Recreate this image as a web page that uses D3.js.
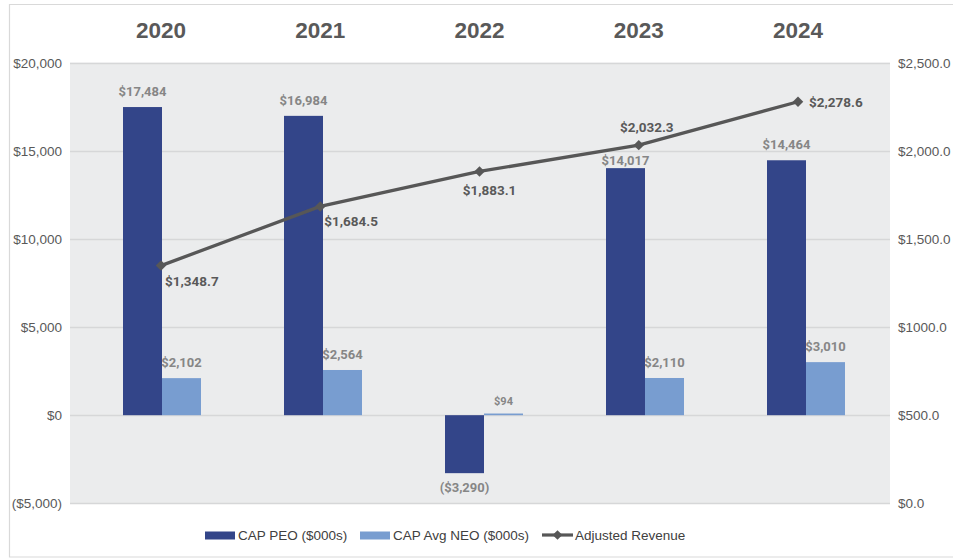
<!DOCTYPE html>
<html>
<head>
<meta charset="utf-8">
<script src="https://cdn.jsdelivr.net/npm/d3@7"></script>
<style>
  body { margin: 0; background: #fff; }
  svg text { font-family: "Liberation Sans", Arial, sans-serif; }
  .lbl { font-family: Roboto, "Liberation Sans", Arial, sans-serif !important; font-weight: bold; }
</style>
</head>
<body>
<div id="chart"></div>
<script>
const years = ["2020", "2021", "2022", "2023", "2024"];
const capPeo = [17484, 16984, -3290, 14017, 14464];
const capNeo = [2102, 2564, 94, 2110, 3010];
const revenue = [1348.7, 1684.5, 1883.1, 2032.3, 2278.6];
const leftTicks = [-5000, 0, 5000, 10000, 15000, 20000];
const rightTicks = [0, 500, 1000, 1500, 2000, 2500];
const rightTickLabels = ["$0.0", "$500.0", "$1000.0", "$1,500.0", "$2,000.0", "$2,500.0"];
// where each revenue label sits relative to its point
const revLabelPos = ["br", "br", "below", "above", "right"];

const W = 953, H = 558;
const plotL = 70, plotR = 890, plotT = 62.7, plotB = 503.3;

const svg = d3.select("#chart").append("svg").attr("width", W).attr("height", H);

// outer frame (top, left, bottom)
svg.append("path")
  .attr("d", `M${W + 2},4.5 H9.5 V557 H${W + 2}`)
  .attr("fill", "none").attr("stroke", "#d9d9d9").attr("stroke-width", 1.2);

svg.append("rect").attr("x", plotL).attr("y", plotT)
  .attr("width", plotR - plotL).attr("height", plotB - plotT).attr("fill", "#ebeced");

// bars sit in bands, the headers and the line use a slightly narrower point scale
const x = d3.scaleBand().domain(years).range([81.5, 886.5]);
const xYear = d3.scalePoint().domain(years).range([161, 798]);
const sub = d3.scaleBand().domain(["peo", "neo"]).range([0, 78]);
const yL = d3.scaleLinear().domain([-5000, 20000]).range([plotB, plotT]);
const yR = d3.scaleLinear().domain([0, 2500]).range([plotB, plotT]);

const xCenter = d => x(d) + x.bandwidth() / 2;
const grpLeft = d => xCenter(d) - 39;

// gridlines
svg.append("g").selectAll("line").data(leftTicks).join("line")
  .attr("x1", plotL).attr("x2", plotR)
  .attr("y1", d => Math.round(yL(d)) + 0.5).attr("y2", d => Math.round(yL(d)) + 0.5)
  .attr("stroke", "#d6d7d8").attr("stroke-width", 1.3);

// left axis
const axL = svg.append("g").attr("transform", `translate(${plotL},0)`)
  .call(d3.axisLeft(yL).tickValues(leftTicks).tickSize(0).tickPadding(8)
    .tickFormat(d => d < 0 ? `($${d3.format(",")(-d)})` : `$${d3.format(",")(d)}`));
axL.select(".domain").remove();
axL.selectAll("text").attr("font-size", 13.5).attr("fill", "#595959")
  .style("font-family", '"Liberation Sans", Arial, sans-serif');

// right axis
const axR = svg.append("g").attr("transform", `translate(${plotR},0)`)
  .call(d3.axisRight(yR).tickValues(rightTicks).tickSize(0).tickPadding(8)
    .tickFormat((d, i) => rightTickLabels[i]));
axR.select(".domain").remove();
axR.selectAll("text").attr("font-size", 13.5).attr("fill", "#595959")
  .style("font-family", '"Liberation Sans", Arial, sans-serif');

// year headers
svg.append("g").selectAll("text").data(years).join("text")
  .attr("x", d => xYear(d)).attr("y", 38)
  .attr("text-anchor", "middle").attr("font-size", 22.5).attr("font-weight", "bold")
  .attr("fill", "#595959").text(d => d);

const peoColor = "#334589", neoColor = "#789dd0", lineColor = "#575757";

// bars
const bars = svg.append("g");
bars.selectAll("rect.peo").data(years).join("rect").attr("class", "peo")
  .attr("x", d => grpLeft(d) + sub("peo")).attr("width", sub.bandwidth())
  .attr("y", (d, i) => yL(Math.max(0, capPeo[i])))
  .attr("height", (d, i) => Math.abs(yL(capPeo[i]) - yL(0)))
  .attr("fill", peoColor);
bars.selectAll("rect.neo").data(years).join("rect").attr("class", "neo")
  .attr("x", d => grpLeft(d) + sub("neo")).attr("width", sub.bandwidth())
  .attr("y", (d, i) => yL(Math.max(0, capNeo[i])))
  .attr("height", (d, i) => Math.max(1.2, Math.abs(yL(capNeo[i]) - yL(0))))
  .attr("fill", neoColor);

const money = v => v < 0 ? `($${d3.format(",")(-v)})` : `$${d3.format(",")(v)}`;

// revenue line points
const pts = years.map((d, i) => [xYear(d), yR(revenue[i])]);

// bar labels; a PEO label that would hit the line just above its bar is tucked down
svg.append("g").selectAll("text").data(years).join("text").attr("class", "lbl")
  .attr("x", d => grpLeft(d) + sub("peo") + sub.bandwidth() / 2)
  .attr("y", (d, i) => {
    if (capPeo[i] < 0) return yL(capPeo[i]) + 19;
    const top = yL(capPeo[i]);
    const gap = top - pts[i][1];
    return (gap > 0 && gap < 35) ? top - 3 : top - 11;
  })
  .attr("text-anchor", "middle").attr("font-size", 13).attr("fill", "#868686")
  .text((d, i) => money(capPeo[i]));
svg.append("g").selectAll("text").data(years).join("text").attr("class", "lbl")
  .attr("x", d => grpLeft(d) + sub("neo") + sub.bandwidth() / 2)
  .attr("y", (d, i) => yL(capNeo[i]) - (capNeo[i] < 500 ? 9 : 11))
  .attr("text-anchor", "middle").attr("font-size", (d, i) => capNeo[i] < 500 ? 11 : 13)
  .attr("fill", "#868686")
  .text((d, i) => money(capNeo[i]));

// revenue line
svg.append("path").attr("d", d3.line()(pts))
  .attr("fill", "none").attr("stroke", lineColor).attr("stroke-width", 3.3);
svg.append("g").selectAll("path").data(pts).join("path")
  .attr("transform", d => `translate(${d[0]},${d[1]})`)
  .attr("d", d3.symbol(d3.symbolDiamond2, 70))
  .attr("fill", lineColor);

const revLbl = svg.append("g").selectAll("text").data(years).join("text").attr("class", "lbl")
  .attr("font-size", 13.5).attr("fill", "#595959")
  .text((d, i) => "$" + d3.format(",.1f")(revenue[i]));
revLbl.each(function(d, i) {
  const [px, py] = pts[i];
  const t = d3.select(this);
  const pos = revLabelPos[i];
  if (pos === "br") t.attr("x", px + 4).attr("y", py + 20).attr("text-anchor", "start");
  else if (pos === "below") t.attr("x", px + 10).attr("y", py + 24).attr("text-anchor", "middle");
  else if (pos === "above") t.attr("x", px + 8).attr("y", py - 13).attr("text-anchor", "middle");
  else t.attr("x", px + 11).attr("y", py + 5).attr("text-anchor", "start");
});

// legend
const leg = svg.append("g").attr("font-size", 13.5).attr("fill", "#404040");
const legItems = [
  { name: "CAP PEO ($000s)", type: "bar", color: peoColor, x: 205 },
  { name: "CAP Avg NEO ($000s)", type: "bar", color: neoColor, x: 360 },
  { name: "Adjusted Revenue", type: "line", color: lineColor, x: 542 }
];
legItems.forEach(it => {
  const g = leg.append("g").attr("transform", `translate(${it.x},535)`);
  if (it.type === "bar") {
    g.append("rect").attr("x", 0).attr("y", -3.5).attr("width", 30).attr("height", 8).attr("fill", it.color);
  } else {
    g.append("line").attr("x1", 0).attr("x2", 31).attr("y1", 0).attr("y2", 0)
      .attr("stroke", it.color).attr("stroke-width", 3.2);
    g.append("path").attr("transform", "translate(15.5,0)")
      .attr("d", d3.symbol(d3.symbolDiamond2, 60)).attr("fill", it.color);
  }
  g.append("text").attr("x", 33).attr("y", 5).attr("fill", "#404040").text(it.name);
});
</script>
</body>
</html>
